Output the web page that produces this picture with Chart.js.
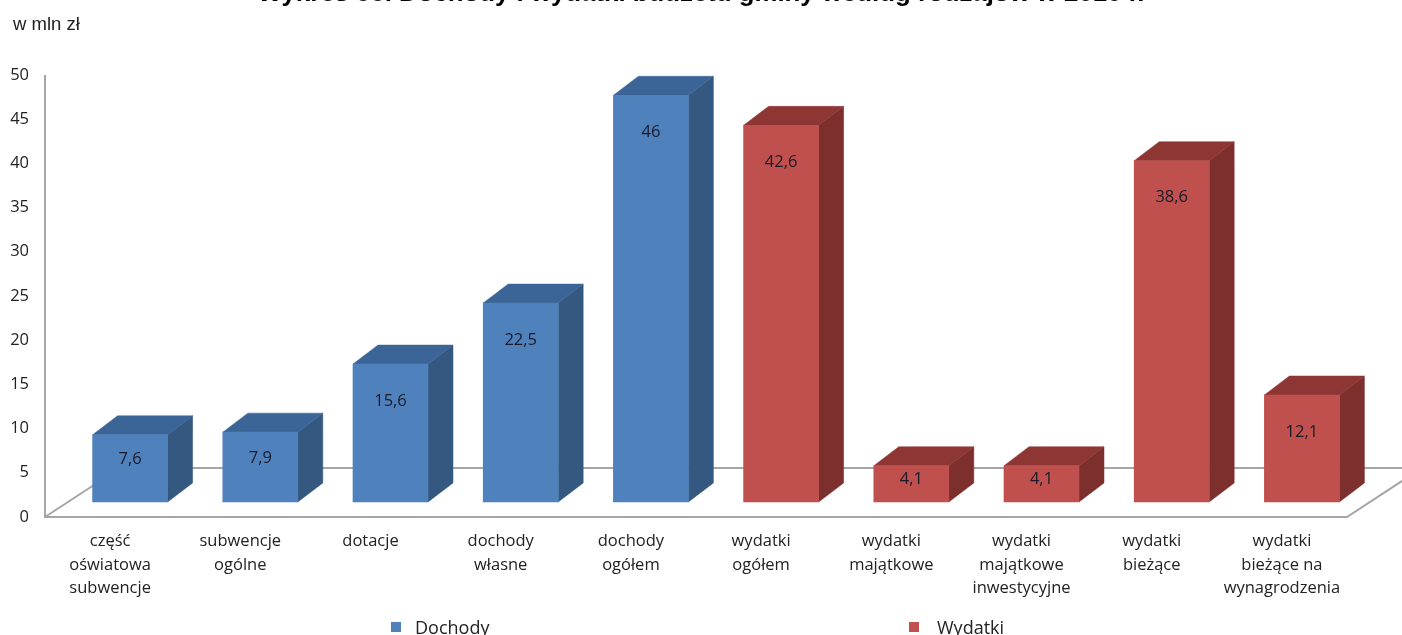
<!DOCTYPE html>
<html lang="pl">
<head>
<meta charset="utf-8">
<title>Dochody i wydatki budżetu gminy</title>
<script src="https://cdn.jsdelivr.net/npm/chart.js@4"></script>
<style>
	html, body { margin: 0; padding: 0; background: #fff; }
	#page { position: relative; width: 1402px; height: 635px; overflow: hidden; }
	#chart { position: absolute; left: 0; top: -22px; }
	.legend_item { position: absolute; top: 617px; font: 18px "Open Sans", sans-serif; color: #222; line-height: 20px; }
	.legend_box { position: absolute; top: 5px; left: 0; width: 10px; height: 10px; }
	.legend_item span.text { position: absolute; white-space: nowrap; }
</style>
</head>
<body>
<div id="page">
	<canvas id="chart" width="1402" height="657"></canvas>
	<div id="legend"></div>
</div>
<script>
const categories = [
	["część", "oświatowa", "subwencje"],
	["subwencje", "ogólne"],
	["dotacje"],
	["dochody", "własne"],
	["dochody", "ogółem"],
	["wydatki", "ogółem"],
	["wydatki", "majątkowe"],
	["wydatki", "majątkowe", "inwestycyjne"],
	["wydatki", "bieżące"],
	["wydatki", "bieżące na", "wynagrodzenia"]
];
const dochody = [7.6, 7.9, 15.6, 22.5, 46, null, null, null, null, null];
const wydatki = [null, null, null, null, null, 42.6, 4.1, 4.1, 38.6, 12.1];

const title_text = "Wykres 88. Dochody i wydatki budżetu gminy według rodzajów w 2010 r.";
const unit_text = "w mln zł";

const label_font = '16.5px "Open Sans", sans-serif';
const axis_color = "#a6a6a6";

// colours of the 3d faces: front, side, top
const blue_faces = ["#4f81bd", "#34587f", "#3b6596"];
const red_faces = ["#c0504d", "#7c2f2d", "#8e3634"];

// how far back the bars and the floor go
const bar_depth = { x: 25, y: 19 };
const floor_depth = { x: 75, y: 49 };

const draw_polygon = (ctx, points, color) => {
	ctx.fillStyle = color;
	ctx.strokeStyle = color;
	ctx.lineWidth = 0.5;
	ctx.beginPath();
	points.forEach((p, i) => i == 0 ? ctx.moveTo(p[0], p[1]) : ctx.lineTo(p[0], p[1]));
	ctx.closePath();
	ctx.fill();
	ctx.stroke();
}

// walls and floor behind the bars
const draw_floor = (chart) => {
	const ctx = chart.ctx;
	const floor_y = chart.scales.y.getPixelForValue(0);
	const top_y = chart.scales.y.getPixelForValue(50);
	const left = chart.chartArea.left - 20;
	const right = chart.chartArea.right - 20;
	ctx.save();
	ctx.strokeStyle = axis_color;
	ctx.lineWidth = 2;
	ctx.beginPath();
	ctx.moveTo(left, top_y);
	ctx.lineTo(left, floor_y);
	ctx.lineTo(right, floor_y);
	ctx.lineTo(right + floor_depth.x, floor_y - floor_depth.y);
	ctx.lineTo(left + floor_depth.x, floor_y - floor_depth.y);
	ctx.lineTo(left, floor_y);
	ctx.stroke();
	ctx.restore();
}

const bars_3d = {
	id: "bars_3d",
	beforeDatasetsDraw(chart) {
		draw_floor(chart);
		const ctx = chart.ctx;
		chart.data.datasets.forEach((dataset, d) => {
			const faces = d == 0 ? blue_faces : red_faces;
			chart.getDatasetMeta(d).data.forEach((bar, i) => {
				if (dataset.data[i] == null) return;
				const left = bar.x - bar.width / 2;
				const right = bar.x + bar.width / 2;
				draw_polygon(ctx, [
					[right, bar.y], [right + bar_depth.x, bar.y - bar_depth.y],
					[right + bar_depth.x, bar.base - bar_depth.y], [right, bar.base]
				], faces[1]);
				draw_polygon(ctx, [
					[left, bar.y], [left + bar_depth.x, bar.y - bar_depth.y],
					[right + bar_depth.x, bar.y - bar_depth.y], [right, bar.y]
				], faces[2]);
			});
		});
	},
	afterDatasetsDraw(chart) {
		const ctx = chart.ctx;
		ctx.save();
		ctx.font = label_font;
		ctx.fillStyle = "#1a1a2a";
		ctx.textAlign = "center";
		ctx.textBaseline = "middle";
		chart.data.datasets.forEach((dataset, d) => {
			chart.getDatasetMeta(d).data.forEach((bar, i) => {
				if (dataset.data[i] == null) return;
				const height = bar.base - bar.y;
				const text = String(dataset.data[i]).replace(".", ",");
				ctx.fillText(text, bar.x, bar.y + Math.min(height * 0.37, 37));
			});
		});
		// unit over the value axis
		ctx.font = '18.5px "Liberation Sans", sans-serif';
		ctx.fillStyle = "#222";
		ctx.textAlign = "left";
		ctx.fillText(unit_text, 13, 47);
		ctx.restore();
	}
};

const chart = new Chart(document.getElementById("chart"), {
	type: "bar",
	data: {
		labels: categories,
		datasets: [
			{ label: "Dochody", data: dochody, backgroundColor: blue_faces[0], grouped: false, barThickness: 75, yAxisID: "bars_y", clip: false },
			{ label: "Wydatki", data: wydatki, backgroundColor: red_faces[0], grouped: false, barThickness: 75, yAxisID: "bars_y", clip: false }
		]
	},
	plugins: [bars_3d],
	options: {
		responsive: false,
		animation: false,
		layout: { padding: { right: 0, bottom: 18, top: 0, left: 0 } },
		plugins: {
			legend: { display: false },
			tooltip: { enabled: false },
			title: {
				display: true,
				text: title_text,
				color: "#000",
				font: { family: '"Liberation Sans", sans-serif', size: 25.8, weight: "bold", lineHeight: 1.2 },
				padding: { top: 0, bottom: 66 }
			}
		},
		scales: {
			x: {
				grid: { display: false },
				border: { display: false },
				ticks: {
					autoSkip: false,
					maxRotation: 0,
					labelOffset: -20,
					padding: 5,
					color: "#222",
					font: { family: '"Open Sans", sans-serif', size: 16.5, lineHeight: 1.42 }
				},
				afterFit: (scale) => { scale.height = 100; }
			},
			y: {
				min: 0,
				max: 50,
				grid: { display: false },
				border: { display: false },
				ticks: {
					stepSize: 5,
					padding: 28,
					color: "#222",
					font: { family: '"Open Sans", sans-serif', size: 16.5 }
				},
				afterFit: (scale) => { scale.width = 65; }
			},
			// the bars stand on a floor in front of the wall, so they get their own hidden scale
			bars_y: { display: false, min: -1.7, max: 48.3 },
			// empty axis that leaves room on the right, padding would push the title off centre
			spacer: {
				position: "right",
				grid: { display: false },
				border: { display: false },
				ticks: { display: false },
				afterFit: (scale) => { scale.width = 35; }
			}
		}
	}
});

// legend is far apart in the original, so build it by hand from the datasets
const legend_left = [391, 909];
const legend_text_left = [24, 28];
chart.data.datasets.forEach((dataset, i) => {
	const item = document.createElement("div");
	item.className = "legend_item";
	item.style.left = legend_left[i] + "px";
	item.innerHTML = '<div class="legend_box" style="background:' + dataset.backgroundColor + '"></div><span class="text" style="left:' + legend_text_left[i] + 'px">' + dataset.label + '</span>';
	document.getElementById("legend").appendChild(item);
});
</script>
</body>
</html>
